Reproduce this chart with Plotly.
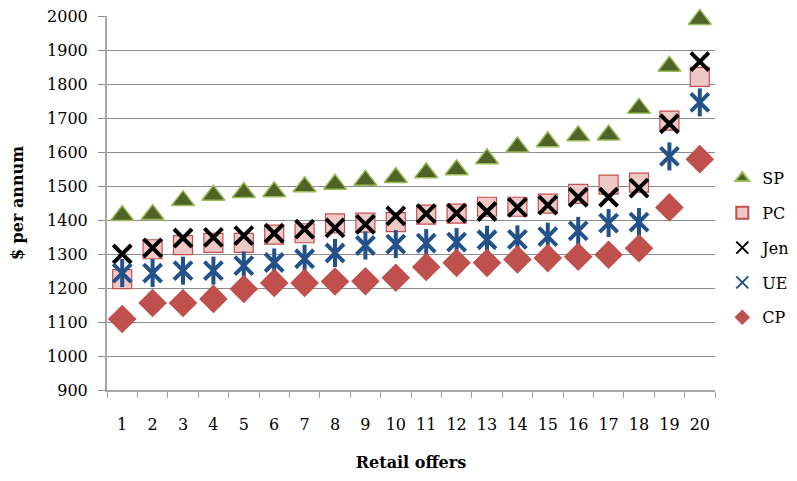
import plotly.graph_objects as go

offers = [str(i) for i in range(1, 21)]
sp = [1413, 1416, 1457, 1473, 1481, 1483, 1498, 1505, 1517, 1525,
      1539, 1548, 1580, 1615, 1630, 1648, 1650, 1729, 1852, 1990]
pc = [1226, 1314, 1326, 1333, 1333, 1357, 1361, 1390, 1392, 1394,
      1416, 1419, 1439, 1439, 1448, 1477, 1504, 1510, 1692, 1821]
jen = [1300, 1318, 1347, 1349, 1354, 1361, 1373, 1377, 1387, 1412,
       1419, 1420, 1425, 1437, 1444, 1467, 1467, 1494, 1683, 1866]
ue = [1244, 1244, 1251, 1251, 1266, 1275, 1286, 1303, 1325, 1329,
      1332, 1335, 1342, 1343, 1351, 1368, 1391, 1394, 1587, 1746]
cp = [1109, 1156, 1156, 1168, 1197, 1215, 1215, 1219, 1220, 1230,
      1262, 1274, 1274, 1284, 1288, 1292, 1298, 1317, 1437, 1579]
y_ticks = list(range(900, 2001, 100))

FONT = "DejaVu Serif"
UE_COL = "#23528A"

fig = go.Figure()
fig.add_trace(go.Scatter(x=offers, y=sp, mode="markers", name="SP", legendgroup="a",
                         cliponaxis=False,
                         marker=dict(symbol="triangle-up", size=20, color="#4F6228",
                                     line=dict(color="#9BBB59", width=1.5))))
fig.add_trace(go.Scatter(x=offers, y=pc, mode="markers", name="PC", legendgroup="b",
                         cliponaxis=False,
                         marker=dict(symbol="square", size=19, color="#EFC8C8",
                                     line=dict(color="#C0504D", width=1.2))))
fig.add_trace(go.Scatter(x=offers, y=jen, mode="markers", name="Jen", legendgroup="c",
                         cliponaxis=False,
                         marker=dict(symbol="x-thin-open", size=18, color="black",
                                     line=dict(color="black", width=4))))
fig.add_trace(go.Scatter(x=offers, y=ue, mode="markers", name="UE", legendgroup="d",
                         cliponaxis=False,
                         marker=dict(symbol="x-thin-open", size=18, color=UE_COL,
                                     line=dict(color=UE_COL, width=4))))
fig.add_trace(go.Scatter(x=offers, y=ue, mode="markers", name="UE", legendgroup="d",
                         showlegend=False, cliponaxis=False,
                         marker=dict(symbol="line-ns-open", size=20, color=UE_COL,
                                     line=dict(color=UE_COL, width=4))))
fig.add_trace(go.Scatter(x=offers, y=cp, mode="markers", name="CP", legendgroup="e",
                         cliponaxis=False,
                         marker=dict(symbol="diamond", size=22, color="#C0504D",
                                     line=dict(width=0))))

fig.update_layout(
    width=789, height=473,
    margin=dict(l=99, r=82, t=8, b=91, autoexpand=False),
    paper_bgcolor="white", plot_bgcolor="white",
    font=dict(family=FONT, size=16, color="black"),
    showlegend=True,
    legend=dict(x=1.012, y=0.612, xanchor="left", yanchor="top",
                tracegroupgap=11, font=dict(size=16, family=FONT),
                itemsizing="constant", bgcolor="rgba(0,0,0,0)"),
    xaxis=dict(type="category", range=[-0.5, 19.5], tickson="boundaries",
               ticks="outside", ticklen=6,
               tickcolor="#a0a0a0", showline=True, linecolor="#a6a6a6", linewidth=2,
               showgrid=False, ticklabelstandoff=19, tickangle=0, automargin=False,
               tickfont=dict(size=16, family=FONT),
               title=dict(text="<b>Retail offers</b>", standoff=24,
                          font=dict(size=16, family=FONT))),
    yaxis=dict(range=[900, 2000], tickvals=y_ticks, ticks="outside", ticklen=7,
               tickcolor="#8c8c8c", showline=True, linecolor="#a6a6a6", linewidth=2,
               showgrid=True, gridcolor="#8c8c8c", gridwidth=1, zeroline=False,
               ticklabelstandoff=7, automargin=False, ticklabeloverflow="allow",
               title=dict(text="<b>$ per annum</b>", standoff=19,
                          font=dict(size=16, family=FONT))),
)

fig.write_html("out.html")
